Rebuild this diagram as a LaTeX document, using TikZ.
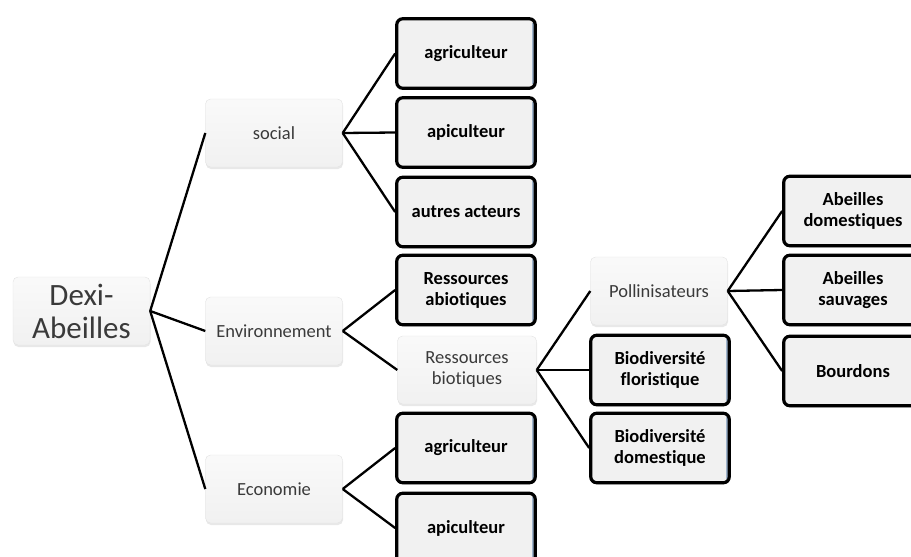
\documentclass[tikz,border=0pt]{standalone}
\usepackage{fontspec}
\setmainfont{Carlito}[Ligatures={NoCommon}]
\usetikzlibrary{shadows}

\definecolor{boxfill}{HTML}{F1F1F1}
\definecolor{boxline}{HTML}{E2E2E2}
\definecolor{boxtext}{HTML}{3A3A3A}
\definecolor{edgeblue}{HTML}{9FB4CC}

\tikzset{
	critere/.style={draw=boxline, rounded corners=5pt, top color=white!60!boxfill, bottom color=boxfill,
		minimum width=137pt, minimum height=68pt, align=center, text=boxtext,
		font=\fontsize{18.5}{21}\selectfont,
		drop shadow={opacity=0.18, shadow xshift=0.5pt, shadow yshift=-2pt}},
	feuille/.style={draw=black, line width=3.2pt, rounded corners=6pt, fill=boxfill,
		minimum width=138.5pt, minimum height=69.5pt, align=center,
		font=\fontsize{18.5}{21}\selectfont\bfseries,
		drop shadow={opacity=0.45, shadow xshift=1pt, shadow yshift=-1.5pt},
		path picture={\draw[edgeblue, line width=1.5pt]
			([xshift=-2.4pt,yshift=-4pt]path picture bounding box.north east) --
			([xshift=-2.4pt,yshift=4pt]path picture bounding box.south east);}},
	lien/.style={draw=black, line width=2.3pt}
}

\begin{document}
\begin{tikzpicture}[x=1pt,y=-1pt]
\useasboundingbox (0,0) rectangle (911,557);

% racine et criteres
\node[critere, minimum height=68pt, font=\fontsize{31}{33}\selectfont] (dexi) at (81.5,311) {Dexi-\\Abeilles};
\node[critere] (social) at (274,133) {social};
\node[critere] (env) at (274,331) {Environnement};
\node[critere] (eco) at (274,489) {Economie};

% premiere colonne
\node[feuille] (sagri) at (466,53.5) {agriculteur};
\node[feuille] (sapi) at (466,132.5) {apiculteur};
\node[feuille] (sautres) at (466,212) {autres acteurs};
\node[feuille] (abio) at (466,290) {Ressources\\abiotiques};
\node[critere, minimum width=139pt] (bio) at (467,370) {Ressources\\biotiques};
\node[feuille] (eagri) at (466,448) {agriculteur};
\node[feuille] (eapi) at (466,528) {apiculteur};

% deuxieme colonne
\node[critere] (poll) at (659,291) {Pollinisateurs};
\node[feuille] (bflor) at (660,370) {Biodiversité\\floristique};
\node[feuille] (bdom) at (660,448) {Biodiversité\\domestique};

% troisieme colonne
\node[feuille] (adom) at (853,211) {Abeilles\\domestiques};
\node[feuille] (asauv) at (853,290) {Abeilles\\sauvages};
\node[feuille] (bourd) at (853,371) {Bourdons};

\foreach \a/\b in {dexi/social, dexi/env, dexi/eco,
	social/sagri, social/sapi, social/sautres,
	env/abio, env/bio, eco/eagri, eco/eapi,
	bio/poll, bio/bflor, bio/bdom,
	poll/adom, poll/asauv, poll/bourd} {
	\draw[lien] (\a.east) -- (\b.west);
}
\end{tikzpicture}
\end{document}
